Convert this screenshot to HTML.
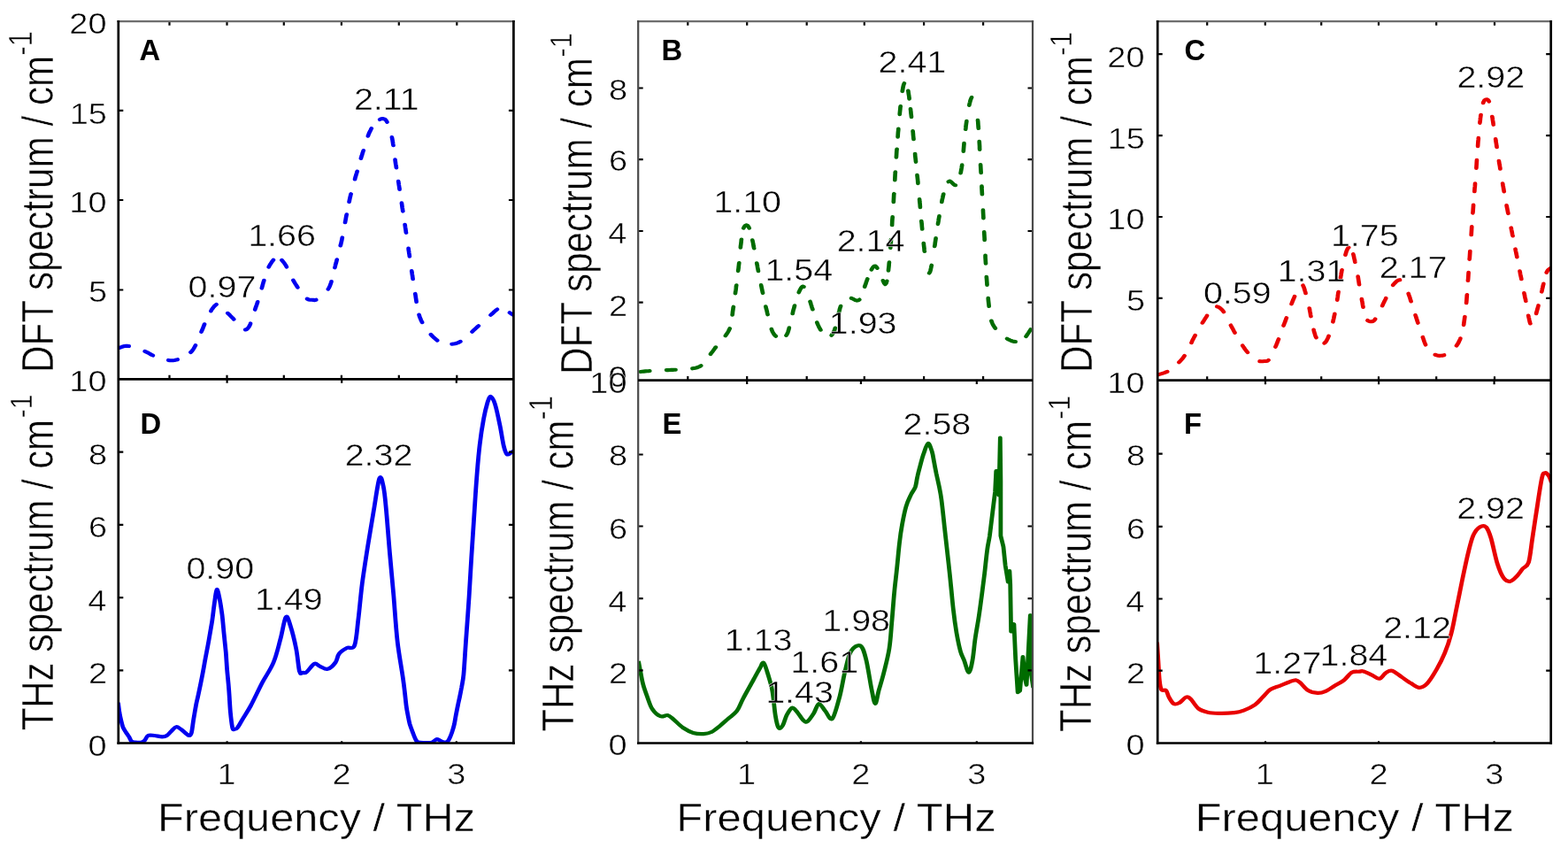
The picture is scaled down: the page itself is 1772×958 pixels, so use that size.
<!DOCTYPE html><html><head><meta charset="utf-8"><title>DFT and THz spectra</title><style>html,body{margin:0;padding:0;background:#fff;overflow:hidden}svg{display:block}text{font-family:"Liberation Sans", Arial, Helvetica, sans-serif}</style></head><body>
<svg width="1772" height="958" viewBox="0 0 1772 958">
<rect width="1772" height="958" fill="#fff"/>
<defs>
<clipPath id="ct0"><rect x="133.8" y="24.2" width="446.59999999999997" height="404.1"/></clipPath>
<clipPath id="cb0"><rect x="133.8" y="428.3" width="446.59999999999997" height="411.09999999999997"/></clipPath>
<clipPath id="ct1"><rect x="721.2" y="24.2" width="445.79999999999995" height="405.40000000000003"/></clipPath>
<clipPath id="cb1"><rect x="721.2" y="429.6" width="445.79999999999995" height="409.79999999999995"/></clipPath>
<clipPath id="ct2"><rect x="1308.2" y="24.2" width="444.5" height="405.5"/></clipPath>
<clipPath id="cb2"><rect x="1308.2" y="429.7" width="444.5" height="409.7"/></clipPath>
</defs>
<g clip-path="url(#ct0)"><path transform="scale(1.14,1)" d="M119.0,392.8 L120.3,392.1 L121.8,391.5 L123.4,391.0 L125.0,390.8 L126.7,390.9 L127.8,391.1 M143.6,396.9 L145.0,397.6 L146.4,398.3 L147.8,399.2 L149.0,400.1 L150.4,400.9 L151.6,401.5 M166.9,406.9 L168.5,407.2 L170.0,407.3 L171.5,407.2 L173.1,407.0 L174.7,406.6 L176.0,406.2 M189.0,398.0 L190.1,396.8 L191.0,395.5 L191.8,394.2 L192.5,392.8 L193.2,391.4 L193.8,390.2 M199.6,374.9 L200.1,373.5 L200.7,372.1 L201.2,370.6 L201.7,369.1 L202.2,367.7 L202.7,366.3 M209.1,351.3 L209.8,349.9 L210.7,348.5 L211.6,347.2 L212.4,346.0 L213.5,344.8 L214.5,343.9 M225.7,353.8 L226.8,354.9 L227.8,356.0 L228.8,357.2 L229.8,358.4 L230.9,359.5 L231.8,360.7 M243.2,372.5 L244.6,372.0 L245.7,370.9 L246.6,369.5 L247.4,368.0 L248.1,366.3 L248.3,365.4 M252.8,349.8 L253.2,348.3 L253.7,346.7 L254.2,345.2 L254.7,343.5 L255.2,341.9 L255.4,341.0 M259.5,325.6 L259.9,324.0 L260.3,322.3 L260.7,320.6 L261.1,318.9 L261.6,317.3 L261.7,316.7 M266.4,301.6 L267.1,300.2 L267.8,298.8 L268.6,297.4 L269.4,296.0 L270.3,294.7 L271.0,293.7 M279.3,293.8 L280.2,295.0 L281.2,296.4 L282.1,297.7 L283.0,299.2 L283.7,300.6 L284.1,301.6 M290.7,316.6 L291.4,318.0 L292.1,319.3 L292.8,320.7 L293.6,322.0 L294.3,323.4 L295.1,324.7 M304.5,337.6 L305.9,338.4 L307.4,338.7 L309.0,338.8 L310.5,338.9 L312.0,339.1 L313.4,338.7 M325.3,326.6 L326.1,325.1 L326.8,323.5 L327.3,322.1 L327.8,320.6 L328.3,319.0 L328.5,318.0 M331.9,302.3 L332.3,300.6 L332.7,298.7 L333.2,296.9 L333.6,295.0 L334.0,293.3 M337.5,277.4 L337.9,275.9 L338.2,274.4 L338.5,272.9 L338.8,271.5 L339.1,269.5 L339.3,268.4 M342.1,251.3 L342.4,249.7 L342.7,247.8 L343.0,245.8 L343.3,243.9 L343.6,242.3 M346.1,228.1 L346.4,226.5 L346.7,224.8 L347.0,223.2 L347.4,221.5 L347.7,219.8 L347.9,219.1 M351.8,202.5 L352.2,200.6 L352.7,198.9 L353.1,197.2 L353.6,195.5 L354.0,193.8 L354.1,193.6 M357.8,178.9 L358.2,177.4 L358.7,175.7 L359.1,174.2 L359.5,172.6 L360.0,171.0 L360.3,170.0 M364.8,153.7 L365.3,152.1 L365.9,150.6 L366.4,149.1 L367.1,147.6 L367.7,146.2 L368.2,145.2 M376.5,135.0 L377.8,134.3 L379.4,134.1 L380.9,134.4 L382.2,135.3 L383.1,136.6 L383.7,137.8 M388.5,155.1 L388.8,156.7 L389.1,158.5 L389.3,160.0 L389.5,161.6 L389.7,163.1 L389.9,164.2 M391.7,180.4 L391.9,182.3 L392.1,183.9 L392.3,185.5 L392.6,187.2 L392.8,188.9 L392.9,189.5 M394.9,204.9 L395.2,206.9 L395.4,208.8 L395.7,210.7 L395.9,212.6 L396.1,214.0 M398.2,229.4 L398.4,231.0 L398.6,232.8 L398.8,234.6 L399.1,236.4 L399.3,238.3 L399.4,238.6 M401.4,253.8 L401.6,255.3 L401.8,257.1 L402.1,259.0 L402.3,260.8 L402.5,262.6 L402.6,262.9 M404.9,280.6 L405.0,282.1 L405.3,284.0 L405.5,285.8 L405.8,287.6 L406.0,289.5 L406.0,289.8 M408.1,306.1 L408.4,308.1 L408.6,310.0 L408.9,311.9 L409.1,313.7 L409.3,315.2 M411.6,331.9 L411.9,333.8 L412.1,335.4 L412.3,337.0 L412.5,338.6 L412.7,340.1 L412.8,341.0 M415.4,355.5 L415.8,357.2 L416.3,358.8 L416.9,360.3 L417.4,361.7 L418.0,363.1 L418.5,364.2 M427.1,377.9 L428.1,379.1 L429.2,380.4 L430.3,381.6 L431.5,382.7 L432.6,383.8 L433.5,384.6 M447.9,388.7 L449.5,388.5 L451.0,388.3 L452.6,387.8 L454.1,387.2 L455.5,386.4 L456.5,385.8 M468.0,374.8 L469.0,373.7 L470.2,372.4 L471.4,371.2 L472.7,369.8 L473.8,368.7 L474.4,368.1 M486.4,355.9 L487.5,354.8 L488.6,353.7 L489.7,352.5 L490.8,351.4 L491.9,350.3 L492.9,349.5 M505.2,353.2 L506.5,354.2 L507.8,355.1 L509.1,356.0" fill="none" stroke="#0000f0" stroke-width="4.1" stroke-linecap="round" stroke-linejoin="round"/></g>
<g clip-path="url(#ct1)"><path transform="scale(1.14,1)" d="M634.9,420.0 L636.6,419.8 L638.1,419.6 L639.8,419.4 L641.5,419.2 L643.2,419.1 L644.1,419.0 M660.6,418.1 L662.2,418.1 L663.9,418.0 L665.4,417.9 L667.0,417.9 L668.6,417.8 L669.8,417.8 M686.4,416.3 L687.9,416.0 L689.3,415.7 L690.9,415.3 L692.3,414.7 L693.7,414.0 L694.9,413.1 M704.4,400.0 L705.3,398.7 L706.2,397.4 L707.1,396.0 L708.0,394.6 L708.8,393.3 L709.5,392.3 M719.2,379.3 L720.0,377.9 L720.8,376.6 L721.6,375.2 L722.3,373.8 L722.9,372.4 L723.4,371.2 M726.0,355.8 L726.2,354.1 L726.3,352.5 L726.5,350.9 L726.7,349.4 L726.9,347.6 L727.1,346.7 M728.9,331.4 L729.1,329.7 L729.4,327.8 L729.6,325.9 L729.7,324.4 L729.9,322.8 L730.0,322.3 M731.7,306.1 L731.9,304.6 L732.1,303.1 L732.2,301.6 L732.4,299.6 L732.6,297.7 L732.7,297.0 M734.1,279.6 L734.2,278.1 L734.4,276.5 L734.6,274.7 L734.8,273.0 L734.9,271.3 L735.0,270.5 M737.1,257.7 L737.7,256.3 L738.6,255.0 L739.9,254.3 L741.3,255.1 L742.1,256.4 L742.7,257.7 M745.9,271.3 L746.2,272.8 L746.5,274.5 L746.8,276.2 L747.0,277.9 L747.3,279.5 L747.5,280.4 M750.2,297.2 L750.5,298.9 L750.8,300.5 L751.0,302.1 L751.3,303.8 L751.6,305.5 L751.7,306.2 M754.5,322.1 L754.8,323.7 L755.1,325.4 L755.4,327.0 L755.7,328.7 L756.0,330.3 L756.2,331.1 M759.1,346.3 L759.4,347.8 L759.7,349.3 L760.1,350.8 L760.4,352.3 L760.7,353.9 L761.0,355.3 M764.8,371.8 L765.3,373.3 L765.8,374.8 L766.5,376.2 L767.2,377.6 L768.1,378.8 L769.1,379.8 M779.4,378.9 L780.2,377.5 L780.8,376.1 L781.3,374.5 L781.7,372.9 L782.1,371.5 L782.3,370.2 M785.7,354.3 L786.0,352.7 L786.3,351.1 L786.7,349.5 L787.1,347.9 L787.5,346.3 L787.7,345.3 M791.9,330.3 L792.5,328.8 L793.1,327.3 L793.8,325.9 L794.6,324.6 L795.7,323.6 L796.9,323.9 M803.1,340.7 L803.6,342.3 L804.0,344.0 L804.5,345.7 L804.9,347.3 L805.4,348.9 L805.6,349.5 M809.9,364.3 L810.4,365.8 L811.0,367.3 L811.6,368.7 L812.2,370.2 L812.9,371.6 L813.5,372.7 M824.3,378.8 L825.2,377.6 L826.0,376.2 L826.7,374.7 L827.2,373.3 L827.6,371.7 L827.9,370.5 M831.3,354.8 L831.6,353.1 L832.0,351.5 L832.3,350.0 L832.6,348.5 L833.1,346.8 L833.4,345.8 M843.9,336.8 L845.3,337.5 L846.6,338.3 L848.0,339.1 L849.5,339.6 L851.1,339.3 L852.0,338.5 M857.2,323.9 L857.6,322.4 L858.2,320.7 L858.6,319.2 L859.1,317.7 L859.5,316.3 L859.9,315.1 M863.9,304.6 L864.6,303.3 L865.4,301.9 L866.4,300.8 L867.9,300.5 L869.0,301.8 L869.6,302.9 M875.3,317.0 L875.9,318.5 L876.5,320.0 L877.5,321.2 L878.5,320.0 L878.9,318.5 L879.2,317.5 M880.7,305.6 L880.8,304.1 L881.0,302.2 L881.2,300.3 L881.3,298.4 L881.5,296.4 M882.7,280.0 L882.8,278.4 L883.0,276.6 L883.1,274.7 L883.2,272.8 L883.3,270.9 L883.3,270.8 M884.3,254.3 L884.4,251.8 L884.5,249.7 L884.6,247.7 L884.8,245.6 L884.8,245.1 M885.8,228.2 L885.9,225.8 L886.0,223.6 L886.1,221.4 L886.2,219.2 L886.3,219.0 M887.1,203.4 L887.2,201.1 L887.3,198.8 L887.4,196.6 L887.6,194.3 L887.6,194.2 M888.5,177.7 L888.6,176.1 L888.7,174.1 L888.8,172.1 L888.9,170.2 L889.1,168.5 M890.0,154.7 L890.1,152.8 L890.2,151.0 L890.3,149.3 L890.5,147.6 L890.6,145.9 L890.6,145.6 M891.9,129.2 L892.0,127.4 L892.2,125.3 L892.4,123.3 L892.5,121.4 L892.7,120.1 M894.5,103.1 L894.8,101.4 L895.0,99.9 L895.3,98.2 L895.6,96.5 L896.1,94.9 L896.4,94.1 M900.3,102.5 L900.5,104.1 L900.7,105.9 L901.0,107.8 L901.2,109.3 L901.3,110.9 L901.4,111.6 M902.6,123.1 L902.8,124.7 L902.9,126.5 L903.1,128.3 L903.3,130.1 L903.5,131.9 L903.5,132.3 M904.9,148.1 L905.1,149.9 L905.2,152.0 L905.4,154.1 L905.6,156.3 L905.7,157.3 M907.1,173.7 L907.2,175.6 L907.4,177.6 L907.6,179.6 L907.8,181.6 L907.9,182.9 M909.2,197.9 L909.4,199.8 L909.6,201.8 L909.8,203.9 L909.9,206.0 L910.0,207.1 M911.5,225.1 L911.6,226.6 L911.7,228.1 L911.9,229.7 L912.0,231.2 L912.1,232.7 L912.2,234.2 M913.4,249.7 L913.6,251.4 L913.8,253.5 L913.9,255.6 L914.1,257.6 L914.2,258.8 M915.6,274.8 L915.8,276.9 L916.0,278.8 L916.2,280.6 L916.3,282.4 L916.5,284.0 M921.2,308.5 L922.0,307.1 L922.4,305.5 L922.7,303.9 L923.0,302.4 L923.3,300.6 L923.5,299.7 M926.5,278.2 L926.8,276.6 L927.0,274.4 L927.3,272.2 L927.5,270.7 L927.7,269.2 L927.7,269.1 M929.8,253.1 L930.0,251.6 L930.3,249.8 L930.5,247.9 L930.8,246.1 L931.1,244.3 L931.1,244.0 M933.6,228.3 L933.8,226.7 L934.1,225.2 L934.5,223.3 L934.8,221.5 L935.2,219.8 L935.3,219.2 M940.2,205.3 L941.5,204.6 L942.8,205.4 L943.9,206.6 L944.9,207.8 L946.0,208.9 L947.2,209.2 M952.3,195.5 L952.6,193.8 L952.9,191.9 L953.2,190.0 L953.4,188.4 L953.7,186.7 L953.7,186.4 M955.1,170.9 L955.2,169.3 L955.3,167.8 L955.4,166.3 L955.5,164.8 L955.7,162.5 L955.7,161.7 M957.2,146.0 L957.4,144.2 L957.5,142.5 L957.7,140.9 L957.9,139.3 L958.1,137.8 L958.2,136.9 M960.8,118.9 L961.1,117.3 L961.5,115.6 L961.8,114.1 L962.2,112.6 L962.7,111.2 L963.2,110.0 M969.3,135.8 L969.5,137.4 L969.6,139.2 L969.7,141.1 L969.8,143.0 L970.0,145.0 M970.8,159.8 L970.9,161.6 L971.0,163.4 L971.1,165.4 L971.1,167.3 L971.2,169.0 M972.0,186.0 L972.1,187.5 L972.2,189.6 L972.3,191.6 L972.4,193.7 L972.5,195.2 M973.2,210.2 L973.2,211.7 L973.3,213.8 L973.4,215.8 L973.5,217.9 L973.6,219.4 M974.5,237.2 L974.6,239.8 L974.7,241.8 L974.8,243.9 L974.9,245.9 L974.9,246.4 M975.6,262.0 L975.7,263.8 L975.8,265.7 L975.9,267.6 L976.0,269.5 L976.0,271.2 M976.8,288.6 L976.8,290.6 L976.9,292.4 L977.0,294.1 L977.1,295.9 L977.2,297.6 L977.2,297.8 M977.9,312.8 L978.1,315.0 L978.2,316.6 L978.3,318.2 L978.4,319.7 L978.5,321.3 L978.5,322.0 M979.6,336.9 L979.7,338.6 L979.9,340.8 L980.1,342.8 L980.3,344.8 L980.4,346.0 M982.8,362.5 L983.3,364.0 L983.8,365.4 L984.4,366.9 L985.1,368.3 L985.9,369.6 L986.7,370.9 M998.3,382.6 L999.6,383.5 L1001.0,384.2 L1002.5,385.0 L1003.9,385.5 L1005.4,385.9 L1006.7,386.0 M1017.1,380.1 L1018.0,378.7 L1018.8,377.3 L1019.6,376.0 L1020.4,374.6 L1021.2,373.1 L1021.7,372.2" fill="none" stroke="#006c00" stroke-width="4.1" stroke-linecap="round" stroke-linejoin="round"/></g>
<g clip-path="url(#ct2)"><path transform="scale(1.14,1)" d="M1148.6,423.1 L1150.1,422.6 L1151.6,422.1 L1153.0,421.6 L1154.4,421.1 L1155.9,420.4 L1157.2,419.8 M1168.7,409.3 L1169.8,408.1 L1170.9,406.8 L1171.9,405.4 L1172.8,404.2 L1173.6,402.9 L1174.2,402.0 M1181.1,387.2 L1181.7,385.6 L1182.3,384.1 L1183.0,382.6 L1183.6,381.2 L1184.3,379.9 L1184.8,378.8 M1192.0,364.7 L1192.8,363.3 L1193.6,361.9 L1194.4,360.4 L1195.2,359.0 L1196.0,357.7 L1196.5,356.7 M1206.4,346.3 L1207.9,346.9 L1209.2,347.8 L1210.4,348.9 L1211.5,350.1 L1212.5,351.4 L1213.1,352.3 M1220.1,367.5 L1220.8,369.0 L1221.6,370.6 L1222.4,372.2 L1223.1,373.8 L1223.9,375.4 L1224.1,375.8 M1231.8,390.4 L1232.6,391.8 L1233.4,393.1 L1234.3,394.6 L1235.2,396.0 L1236.3,397.4 L1236.8,398.1 M1248.7,408.1 L1250.3,408.2 L1251.8,408.2 L1253.4,408.0 L1254.9,408.0 L1256.5,407.7 L1257.5,406.8 M1264.4,391.8 L1265.0,390.3 L1265.6,388.6 L1266.1,387.2 L1266.6,385.7 L1267.1,384.3 L1267.5,383.1 M1272.4,367.8 L1273.0,366.1 L1273.5,364.6 L1274.0,363.2 L1274.5,361.7 L1274.9,360.2 L1275.3,359.1 M1280.3,343.4 L1280.8,341.9 L1281.3,340.5 L1281.9,338.8 L1282.5,337.2 L1283.1,335.6 L1283.4,334.8 M1291.7,322.4 L1292.3,323.9 L1292.8,325.4 L1293.2,326.9 L1293.6,328.5 L1294.0,329.9 L1294.3,331.2 M1298.0,348.2 L1298.3,349.8 L1298.5,351.3 L1298.8,352.8 L1299.0,354.3 L1299.2,355.8 L1299.5,357.3 L1299.5,357.3 M1302.3,372.6 L1302.6,374.2 L1303.0,375.8 L1303.4,377.3 L1303.8,378.8 L1304.3,380.3 L1304.8,381.4 M1312.9,387.7 L1314.0,386.5 L1314.9,385.2 L1315.5,383.7 L1316.2,382.3 L1316.7,380.9 L1317.2,379.6 M1321.4,363.6 L1321.7,361.8 L1322.1,360.1 L1322.4,358.4 L1322.7,356.7 L1323.1,354.9 L1323.1,354.6 M1325.6,338.9 L1325.8,337.2 L1326.1,335.3 L1326.3,333.3 L1326.5,331.8 L1326.7,330.3 L1326.8,329.8 M1328.9,314.1 L1329.1,312.5 L1329.4,310.8 L1329.6,309.1 L1329.9,307.5 L1330.1,305.8 L1330.3,305.0 M1333.7,288.0 L1334.1,286.4 L1334.5,284.8 L1335.0,283.2 L1335.6,281.7 L1336.3,280.3 L1337.0,279.6 M1341.5,287.1 L1341.9,288.8 L1342.2,290.4 L1342.5,292.0 L1342.9,293.8 L1343.2,295.6 L1343.3,296.1 M1346.2,312.4 L1346.4,313.9 L1346.6,315.4 L1346.8,317.0 L1347.0,318.5 L1347.2,320.0 L1347.4,321.5 L1347.4,321.5 M1349.9,337.9 L1350.2,339.9 L1350.5,341.4 L1350.7,343.0 L1350.9,344.6 L1351.2,346.1 L1351.3,347.0 M1355.7,362.0 L1357.0,362.9 L1358.4,363.3 L1359.9,363.2 L1361.4,362.7 L1362.5,361.7 L1363.3,360.4 M1370.3,345.4 L1370.9,343.9 L1371.5,342.5 L1372.2,340.9 L1372.9,339.3 L1373.6,337.7 L1373.9,336.9 M1380.9,322.1 L1381.9,320.8 L1382.9,319.5 L1384.0,318.3 L1385.1,317.3 L1386.4,316.5 L1387.7,316.2 M1396.2,331.7 L1396.7,333.4 L1397.2,334.9 L1397.7,336.5 L1398.1,338.1 L1398.6,339.8 L1398.8,340.5 M1403.1,356.0 L1403.6,357.6 L1404.0,359.2 L1404.5,360.8 L1404.9,362.4 L1405.4,364.0 L1405.6,364.8 M1410.4,380.9 L1410.9,382.5 L1411.4,384.2 L1411.9,385.9 L1412.5,387.6 L1413.1,389.2 L1413.2,389.6 M1422.6,400.8 L1424.1,401.3 L1425.5,401.7 L1427.0,401.9 L1428.6,401.8 L1430.3,401.6 L1431.6,401.2 M1443.8,390.6 L1444.7,389.1 L1445.6,387.6 L1446.3,385.9 L1446.9,384.5 L1447.5,383.1 L1447.7,382.3 M1451.0,367.1 L1451.2,365.3 L1451.4,363.6 L1451.6,361.9 L1451.8,360.2 L1452.0,358.4 L1452.1,357.9 M1453.6,342.3 L1453.8,340.1 L1453.9,338.5 L1454.0,336.9 L1454.1,335.2 L1454.2,333.5 L1454.3,333.1 M1455.2,317.0 L1455.4,315.1 L1455.5,313.3 L1455.6,311.5 L1455.7,309.7 L1455.8,307.9 L1455.8,307.8 M1456.7,292.9 L1456.9,291.0 L1457.0,289.2 L1457.1,287.4 L1457.2,285.6 L1457.3,283.7 L1457.3,283.7 M1458.5,265.3 L1458.6,263.5 L1458.7,261.6 L1458.8,259.8 L1458.9,258.0 L1459.0,256.2 L1459.0,256.1 M1460.0,240.6 L1460.2,238.6 L1460.3,236.9 L1460.4,235.2 L1460.5,233.5 L1460.6,231.8 L1460.6,231.5 M1461.7,216.3 L1461.8,214.3 L1461.9,212.6 L1462.1,210.9 L1462.2,209.3 L1462.3,207.6 L1462.3,207.2 M1463.5,190.0 L1463.6,188.1 L1463.7,186.3 L1463.8,184.5 L1463.9,182.7 L1464.0,180.9 L1464.0,180.8 M1465.0,165.1 L1465.1,163.1 L1465.2,161.3 L1465.3,159.7 L1465.5,158.0 L1465.6,156.4 L1465.6,155.9 M1467.0,138.9 L1467.2,137.0 L1467.4,135.4 L1467.5,133.8 L1467.7,132.3 L1467.9,130.4 L1468.0,129.8 M1470.3,116.2 L1470.8,114.8 L1471.5,113.4 L1472.8,112.5 L1474.3,112.3 L1475.5,113.3 L1476.1,114.6 M1479.2,131.7 L1479.5,133.4 L1479.7,135.3 L1480.0,137.2 L1480.2,138.7 L1480.4,140.3 L1480.5,140.8 M1482.6,157.1 L1482.8,158.9 L1483.1,161.0 L1483.4,163.0 L1483.6,165.1 L1483.8,166.2 M1485.9,181.7 L1486.2,183.9 L1486.4,185.4 L1486.7,187.0 L1486.9,188.6 L1487.1,190.2 L1487.2,190.8 M1489.6,207.3 L1489.9,209.4 L1490.2,211.0 L1490.4,212.6 L1490.6,214.2 L1490.9,215.7 L1491.0,216.4 M1493.5,232.1 L1493.8,234.0 L1494.2,236.0 L1494.5,237.9 L1494.8,239.8 L1495.1,241.1 M1498.0,257.4 L1498.3,259.3 L1498.7,261.3 L1499.0,263.2 L1499.3,265.1 L1499.6,266.4 M1502.2,281.4 L1502.5,283.3 L1502.9,285.2 L1503.2,287.2 L1503.6,289.1 L1503.8,290.4 M1506.6,306.2 L1506.9,308.1 L1507.2,310.1 L1507.6,312.1 L1508.0,314.2 L1508.2,315.3 M1510.9,331.1 L1511.2,332.6 L1511.5,334.4 L1511.8,336.2 L1512.2,337.9 L1512.5,339.6 L1512.6,340.1 M1515.1,356.5 L1515.4,358.3 L1515.8,360.2 L1516.1,361.9 L1516.4,363.4 L1516.8,364.9 L1517.0,365.5 M1522.9,354.2 L1523.3,352.6 L1523.7,350.8 L1524.1,349.3 L1524.4,347.8 L1524.8,346.2 L1525.0,345.2 M1528.3,329.6 L1528.6,328.1 L1528.9,326.4 L1529.3,324.7 L1529.6,322.9 L1530.0,321.2 L1530.1,320.6 M1533.1,307.8 L1533.8,306.3 L1534.7,304.9 L1535.8,303.9 L1537.1,303.0 L1537.5,302.7" fill="none" stroke="#e80000" stroke-width="4.1" stroke-linecap="round" stroke-linejoin="round"/></g>
<g clip-path="url(#cb0)"><path transform="scale(1.14,1)" d="M117.1,793.7 C117.3,795.5 117.9,801.1 118.3,804.4 C118.8,807.6 119.3,810.4 119.9,813.2 C120.5,816.0 121.0,818.8 121.8,821.2 C122.7,823.6 123.9,825.5 124.9,827.4 C126.0,829.3 127.2,831.1 128.1,832.8 C129.0,834.5 129.3,836.5 130.4,837.5 C131.4,838.5 132.6,838.4 134.3,838.6 C136.0,838.8 139.0,839.0 140.5,838.6 C142.1,838.2 142.6,837.6 143.6,836.3 C144.6,835.0 145.2,831.9 146.8,831.0 C148.3,830.1 150.7,830.8 153.0,831.0 C155.3,831.2 158.6,832.3 160.7,832.3 C162.8,832.3 163.9,832.1 165.4,831.0 C167.0,829.9 168.5,827.3 170.1,825.7 C171.6,824.1 173.2,821.5 174.7,821.2 C176.3,820.9 177.8,822.7 179.4,823.9 C181.0,825.1 182.7,827.1 184.1,828.3 C185.5,829.5 186.7,831.1 187.6,831.0 C188.6,830.9 189.2,830.4 189.9,827.4 C190.6,824.4 191.1,818.2 191.8,813.2 C192.6,808.2 193.5,801.6 194.2,797.3 C194.9,793.0 195.1,792.4 196.1,787.5 C197.0,782.6 198.5,774.8 199.7,767.8 C201.0,760.8 202.2,752.7 203.4,745.2 C204.6,737.7 206.0,730.0 207.1,722.7 C208.2,715.4 209.3,708.5 210.3,701.5 C211.2,694.5 211.9,686.3 212.7,680.4 C213.5,674.5 214.1,666.7 214.9,666.0 C215.7,665.3 216.8,671.4 217.6,676.1 C218.5,680.9 219.4,687.9 220.2,694.5 C220.9,701.1 221.4,708.6 222.0,715.6 C222.6,722.6 223.3,730.0 223.9,736.8 C224.4,743.6 224.6,749.5 225.1,756.5 C225.6,763.5 226.4,771.1 226.9,779.1 C227.5,787.1 227.8,797.2 228.4,804.4 C229.0,811.6 229.8,818.9 230.4,822.1 C231.1,825.4 231.5,823.9 232.4,823.9 C233.2,823.9 234.2,823.9 235.4,822.1 C236.7,820.3 237.9,817.4 240.1,813.2 C242.3,809.0 245.4,804.0 248.7,797.0 C252.0,790.0 256.2,779.5 259.9,771.4 C263.7,763.3 268.2,756.5 271.1,748.4 C274.1,740.3 275.8,731.3 277.8,722.8 C279.9,714.3 281.7,699.8 283.4,697.2 C285.1,694.6 286.3,701.4 288.0,707.4 C289.7,713.4 292.1,724.5 293.6,733.0 C295.1,741.5 295.8,754.1 296.9,758.6 C298.0,763.1 299.1,759.8 300.3,759.9 C301.4,760.0 302.1,761.0 303.9,759.3 C305.8,757.6 309.4,750.9 311.6,749.8 C313.8,748.7 315.1,751.8 317.3,752.8 C319.5,753.8 322.3,756.5 324.8,755.8 C327.4,755.1 330.6,751.4 332.5,748.5 C334.4,745.6 334.3,741.2 336.2,738.5 C338.1,735.8 341.3,733.6 343.9,732.0 C346.4,730.4 349.6,734.6 351.5,729.0 C353.4,723.4 354.0,710.2 355.3,698.6 C356.5,687.0 357.5,673.3 359.0,659.6 C360.6,645.9 362.8,630.0 364.7,616.3 C366.6,602.6 368.5,589.9 370.4,577.3 C372.3,564.7 374.5,545.2 376.1,540.5 C377.7,535.8 378.9,543.8 380.0,549.2 C381.1,554.6 381.6,560.4 382.6,573.0 C383.7,585.6 385.1,608.4 386.4,625.0 C387.7,641.6 388.9,656.1 390.2,672.7 C391.4,689.3 392.4,708.8 394.0,724.7 C395.6,740.6 398.3,756.0 399.7,768.0 C401.2,780.0 402.0,790.5 402.7,797.0 C403.5,803.5 403.6,803.7 404.2,807.2 C404.8,810.7 405.4,814.6 406.2,818.0 C407.1,821.4 408.2,824.5 409.2,827.5 C410.2,830.5 411.3,833.9 412.2,835.7 C413.1,837.6 413.2,838.1 414.6,838.6 C416.1,839.1 418.8,839.0 421.1,839.0 C423.3,839.0 426.4,839.2 428.1,838.8 C429.8,838.4 430.3,837.1 431.1,836.5 C432.0,835.9 432.5,835.0 433.3,835.0 C434.1,835.0 434.9,835.9 436.0,836.5 C437.0,837.1 438.5,838.1 439.6,838.4 C440.8,838.6 442.1,838.5 443.0,838.0 C443.9,837.5 444.2,837.5 445.0,835.7 C445.8,834.0 447.1,830.5 448.0,827.5 C448.9,824.5 449.7,821.4 450.4,818.0 C451.0,814.6 451.5,810.7 452.1,807.2 C452.7,803.7 453.3,800.2 453.9,797.0 C454.4,793.8 455.0,791.3 455.6,788.0 C456.2,784.7 456.8,781.3 457.5,777.0 C458.1,772.7 458.8,770.6 459.6,762.0 C460.3,753.4 460.9,740.0 461.8,725.4 C462.7,710.8 464.1,690.1 465.0,674.2 C465.9,658.4 466.5,644.9 467.3,630.3 C468.1,615.7 469.0,601.0 469.8,586.4 C470.7,571.8 471.4,556.4 472.4,542.4 C473.3,528.4 474.4,513.8 475.6,502.2 C476.8,490.6 478.2,480.8 479.5,472.9 C480.8,465.0 482.2,458.8 483.3,454.6 C484.5,450.5 485.3,447.7 486.5,448.0 C487.7,448.3 489.2,451.1 490.7,456.5 C492.2,461.9 494.1,472.3 495.5,480.2 C497.0,488.1 498.2,498.5 499.4,504.0 C500.6,509.5 501.3,512.0 502.5,513.2 C503.8,514.4 505.6,512.0 506.8,511.3 C507.9,510.6 509.2,509.6 509.6,509.3" fill="none" stroke="#0000f0" stroke-width="4.2" stroke-linejoin="round"/></g>
<g clip-path="url(#cb1)"><path transform="scale(1.14,1)" d="M632.9,747.0 C633.3,749.2 634.3,755.6 635.1,760.0 C635.9,764.4 636.5,769.0 637.6,773.6 C638.7,778.2 640.2,782.8 641.7,787.4 C643.2,792.0 644.5,797.6 646.7,801.2 C648.8,804.8 652.2,808.1 654.7,809.2 C657.3,810.4 659.7,807.5 661.8,808.1 C664.0,808.7 665.1,810.3 667.6,812.6 C670.1,814.9 673.7,819.5 676.9,822.0 C680.2,824.5 683.8,826.7 687.2,827.9 C690.6,829.1 694.4,829.3 697.5,829.1 C700.6,828.9 703.0,828.3 705.8,826.7 C708.5,825.1 711.3,822.2 714.0,819.7 C716.8,817.2 719.5,814.2 722.3,811.5 C725.0,808.8 728.1,806.9 730.5,803.2 C732.9,799.5 733.9,795.0 736.7,789.1 C739.4,783.2 744.2,773.7 746.9,768.0 C749.7,762.3 751.5,758.3 753.2,755.1 C754.8,751.9 755.6,748.1 756.8,748.7 C758.0,749.3 758.9,753.4 760.4,758.6 C761.8,763.8 764.2,771.5 765.5,779.7 C766.9,787.9 767.6,800.9 768.6,807.9 C769.6,814.9 770.5,820.0 771.7,822.0 C772.9,824.0 774.4,822.1 775.8,819.7 C777.2,817.4 778.4,811.2 779.9,807.9 C781.5,804.6 783.4,800.3 785.1,799.7 C786.8,799.1 788.4,802.0 790.3,804.4 C792.1,806.8 794.7,812.0 796.4,813.8 C798.1,815.6 798.8,816.4 800.5,815.0 C802.3,813.6 804.9,808.9 806.8,805.6 C808.6,802.3 810.0,795.4 811.8,795.0 C813.7,794.6 815.9,800.4 818.1,803.2 C820.3,806.0 822.7,814.6 825.1,811.8 C827.5,809.0 830.3,795.5 832.5,786.4 C834.6,777.2 836.1,765.3 838.0,756.9 C839.8,748.5 841.1,740.3 843.6,735.7 C846.1,731.1 850.3,728.0 852.8,729.4 C855.3,730.8 856.6,736.1 858.4,744.2 C860.3,752.3 862.4,769.5 863.9,778.0 C865.5,786.5 866.4,794.6 867.6,794.9 C868.8,795.2 869.8,785.7 871.2,779.8 C872.7,773.9 874.6,767.1 876.3,759.3 C878.0,751.5 880.2,742.3 881.5,733.0 C882.8,723.7 883.2,714.4 884.0,703.7 C884.9,693.0 885.7,678.9 886.6,668.7 C887.4,658.5 888.3,651.6 889.1,642.3 C890.0,633.0 890.8,621.4 891.7,613.1 C892.5,604.8 893.2,599.4 894.3,592.6 C895.4,585.8 896.7,577.9 898.2,572.2 C899.6,566.5 901.7,562.2 903.2,558.5 C904.8,554.8 906.3,553.7 907.4,550.2 C908.4,546.7 908.7,541.9 909.6,537.7 C910.4,533.5 911.4,529.4 912.4,525.2 C913.4,521.0 914.3,516.6 915.6,512.6 C916.9,508.6 918.6,501.4 920.0,501.0 C921.4,500.6 922.9,506.5 923.9,510.1 C924.9,513.7 925.3,518.5 926.1,522.7 C926.8,526.9 927.4,530.6 928.2,535.2 C929.1,539.8 930.2,545.4 931.1,550.2 C931.9,555.0 932.3,556.0 933.2,564.0 C934.2,572.0 935.5,587.2 936.6,598.5 C937.7,609.8 938.9,621.8 939.9,632.0 C940.9,642.2 941.7,650.3 942.5,660.0 C943.4,669.7 944.2,680.9 945.2,690.0 C946.1,699.1 947.1,707.2 948.2,714.8 C949.4,722.4 950.8,730.5 952.1,735.7 C953.4,740.9 954.4,742.1 955.8,746.1 C957.2,750.1 959.0,759.7 960.4,759.7 C961.7,759.7 963.0,752.5 964.0,746.1 C965.1,739.7 965.7,729.5 966.8,721.1 C967.8,712.8 969.4,704.0 970.4,696.0 C971.5,688.0 972.2,681.1 973.2,673.1 C974.1,665.1 975.0,656.7 976.0,648.0 C976.9,639.3 977.8,628.0 978.7,620.9 C979.5,613.8 980.2,612.1 981.1,605.3 C981.9,598.5 983.3,584.4 983.8,580.2 L986.5,555.2 L987.5,532.2 L989.2,532.2 L990.2,559.3 L991.5,494.6 L992.0,542.6 L992.0,605.3 L994.7,617.8 L996.6,638.7 L999.3,657.5 L1000.8,645.0 L1001.5,660.0 L1002.3,713.5 L1005.2,705.2 L1006.7,743.6 L1008.9,782.1 L1011.1,780.4 L1014.0,742.0 L1016.2,767.0 L1017.6,773.7 L1019.1,743.6 L1021.3,695.1 L1022.1,760.3 L1024.3,777.0" fill="none" stroke="#006c00" stroke-width="4.2" stroke-linejoin="round"/></g>
<g clip-path="url(#cb2)"><path transform="scale(1.14,1)" d="M1147.0,725.6 C1147.2,729.2 1147.8,739.9 1148.2,747.0 C1148.6,754.1 1148.9,763.0 1149.4,768.3 C1149.9,773.6 1150.2,777.0 1151.3,779.0 C1152.4,781.0 1154.7,778.7 1156.0,780.1 C1157.2,781.5 1157.5,785.1 1158.8,787.6 C1160.0,790.1 1161.8,794.0 1163.5,795.1 C1165.2,796.2 1167.1,795.2 1169.1,794.0 C1171.2,792.8 1173.8,788.3 1175.7,787.6 C1177.6,786.9 1178.3,787.6 1180.4,789.7 C1182.4,791.8 1185.1,797.9 1187.9,800.4 C1190.7,802.9 1193.8,803.8 1197.3,804.7 C1200.7,805.6 1204.1,805.7 1208.5,805.8 C1212.9,805.9 1219.4,805.6 1223.5,805.1 C1227.6,804.6 1229.4,804.1 1232.9,802.6 C1236.3,801.1 1241.1,798.6 1244.2,796.1 C1247.3,793.6 1249.2,790.5 1251.7,787.6 C1254.2,784.8 1256.4,781.1 1259.2,779.0 C1262.0,776.9 1265.5,776.2 1268.6,774.8 C1271.7,773.4 1275.3,771.6 1278.0,770.5 C1280.6,769.4 1282.7,768.1 1284.6,768.3 C1286.4,768.5 1287.2,769.6 1289.2,771.6 C1291.2,773.6 1293.9,778.2 1296.8,780.1 C1299.6,782.0 1303.3,782.7 1306.1,782.9 C1308.9,783.1 1310.8,782.6 1313.6,781.2 C1316.4,779.9 1319.9,776.9 1323.0,774.8 C1326.1,772.6 1329.5,770.8 1332.4,768.3 C1335.2,765.8 1337.4,761.4 1339.9,759.8 C1342.4,758.2 1345.4,758.9 1347.4,758.7 C1349.3,758.5 1349.6,757.8 1351.6,758.4 C1353.6,759.0 1356.8,760.9 1359.5,762.3 C1362.1,763.7 1365.0,767.1 1367.4,766.7 C1369.7,766.4 1371.6,761.7 1373.7,760.2 C1375.8,758.7 1377.4,756.9 1380.0,757.7 C1382.6,758.5 1386.4,762.5 1389.6,764.9 C1392.7,767.3 1396.1,770.1 1399.0,772.1 C1401.9,774.1 1404.3,776.8 1406.9,776.8 C1409.6,776.8 1411.9,775.6 1414.8,772.1 C1417.7,768.6 1421.4,761.6 1424.3,755.9 C1427.2,750.2 1429.8,744.4 1432.2,737.8 C1434.6,731.2 1436.7,724.0 1438.5,716.2 C1440.4,708.4 1441.4,701.2 1443.2,691.0 C1445.1,680.8 1447.5,666.4 1449.6,655.0 C1451.7,643.6 1454.0,630.9 1455.9,622.5 C1457.7,614.1 1458.8,609.0 1460.6,604.5 C1462.5,600.0 1464.8,597.0 1466.9,595.5 C1469.0,594.0 1471.4,593.4 1473.2,595.5 C1475.1,597.6 1476.2,601.2 1478.1,608.1 C1479.9,615.0 1482.3,629.4 1484.4,636.9 C1486.5,644.4 1488.6,649.9 1490.7,653.2 C1492.8,656.5 1494.9,657.1 1497.0,656.8 C1499.1,656.5 1501.2,653.8 1503.3,651.4 C1505.4,649.0 1507.6,645.0 1509.6,642.3 C1511.7,639.6 1513.8,640.8 1515.4,635.1 C1516.9,629.4 1517.7,618.6 1519.1,608.1 C1520.5,597.6 1522.3,583.5 1523.9,572.1 C1525.4,560.7 1527.3,545.9 1528.6,539.6 C1529.9,533.3 1530.6,534.5 1531.8,534.2 C1532.9,533.9 1534.5,536.0 1535.5,537.8 C1536.6,539.6 1537.6,543.8 1538.1,545.0" fill="none" stroke="#e80000" stroke-width="4.2" stroke-linejoin="round"/></g>
<path d="M191.5,24.2 v4.5 M191.5,428.3 v-4.5 M256.5,24.2 v4.5 M256.5,428.3 v-4.5 M320.8,24.2 v4.5 M320.8,428.3 v-4.5 M385.9,24.2 v4.5 M385.9,428.3 v-4.5 M450.8,24.2 v4.5 M450.8,428.3 v-4.5 M516.3,24.2 v4.5 M516.3,428.3 v-4.5 M256.6,428.3 v4.5 M256.6,839.4 v-2.2 M386.2,428.3 v4.5 M386.2,839.4 v-2.2 M515.8,428.3 v4.5 M515.8,839.4 v-2.2 M133.8,124.8 h5.5 M580.4,124.8 h-5.5 M133.8,226.0 h5.5 M580.4,226.0 h-5.5 M133.8,327.5 h5.5 M580.4,327.5 h-5.5 M133.8,510.7 h5.5 M580.4,510.7 h-5.5 M133.8,592.9 h5.5 M580.4,592.9 h-5.5 M133.8,675.1 h5.5 M580.4,675.1 h-5.5 M133.8,757.3 h5.5 M580.4,757.3 h-5.5" stroke="#000" stroke-width="2.2" fill="none"/>
<line x1="132.45000000000002" y1="24.2" x2="581.75" y2="24.2" stroke="#6e6e6e" stroke-width="2.2"/>
<line x1="133.8" y1="23.099999999999998" x2="133.8" y2="840.65" stroke="#000" stroke-width="2.7"/>
<line x1="580.4" y1="23.099999999999998" x2="580.4" y2="840.65" stroke="#000" stroke-width="2.7"/>
<line x1="132.45000000000002" y1="839.4" x2="581.75" y2="839.4" stroke="#000" stroke-width="2.5"/>
<line x1="133.8" y1="428.3" x2="580.4" y2="428.3" stroke="#000" stroke-width="2.8"/>
<path d="M777.3,24.2 v4.5 M777.3,429.6 v-4.5 M844.2,24.2 v4.5 M844.2,429.6 v-4.5 M911.7,24.2 v4.5 M911.7,429.6 v-4.5 M976.8,24.2 v4.5 M976.8,429.6 v-4.5 M1044.1,24.2 v4.5 M1044.1,429.6 v-4.5 M1111.1,24.2 v4.5 M1111.1,429.6 v-4.5 M844.2,429.6 v4.5 M844.2,839.4 v-2.2 M972.9,429.6 v4.5 M972.9,839.4 v-2.2 M1103.8,429.6 v4.5 M1103.8,839.4 v-2.2 M721.2,99.5 h5.5 M1167.0,99.5 h-5.5 M721.2,180.2 h5.5 M1167.0,180.2 h-5.5 M721.2,261.0 h5.5 M1167.0,261.0 h-5.5 M721.2,341.6 h5.5 M1167.0,341.6 h-5.5 M721.2,513.5 h5.5 M1167.0,513.5 h-5.5 M721.2,594.5 h5.5 M1167.0,594.5 h-5.5 M721.2,676.2 h5.5 M1167.0,676.2 h-5.5 M721.2,757.4 h5.5 M1167.0,757.4 h-5.5" stroke="#000" stroke-width="2.2" fill="none"/>
<line x1="720.1" y1="24.2" x2="1168.1" y2="24.2" stroke="#6e6e6e" stroke-width="2.2"/>
<line x1="721.2" y1="23.099999999999998" x2="721.2" y2="840.65" stroke="#4a4a4a" stroke-width="2.2"/>
<line x1="1167.0" y1="23.099999999999998" x2="1167.0" y2="840.65" stroke="#4a4a4a" stroke-width="2.2"/>
<line x1="720.1" y1="839.4" x2="1168.1" y2="839.4" stroke="#000" stroke-width="2.5"/>
<line x1="721.2" y1="429.6" x2="1167.0" y2="429.6" stroke="#000" stroke-width="2.8"/>
<path d="M1364.2,24.2 v4.5 M1364.2,429.7 v-4.5 M1429.8,24.2 v4.5 M1429.8,429.7 v-4.5 M1493.2,24.2 v4.5 M1493.2,429.7 v-4.5 M1558.0,24.2 v4.5 M1558.0,429.7 v-4.5 M1623.2,24.2 v4.5 M1623.2,429.7 v-4.5 M1689.0,24.2 v4.5 M1689.0,429.7 v-4.5 M1430.0,429.7 v4.5 M1430.0,839.4 v-2.2 M1558.1,429.7 v4.5 M1558.1,839.4 v-2.2 M1688.6,429.7 v4.5 M1688.6,839.4 v-2.2 M1308.2,61.2 h5.5 M1752.7,61.2 h-5.5 M1308.2,153.2 h5.5 M1752.7,153.2 h-5.5 M1308.2,245.0 h5.5 M1752.7,245.0 h-5.5 M1308.2,336.8 h5.5 M1752.7,336.8 h-5.5 M1308.2,512.6 h5.5 M1752.7,512.6 h-5.5 M1308.2,594.8 h5.5 M1752.7,594.8 h-5.5 M1308.2,676.5 h5.5 M1752.7,676.5 h-5.5 M1308.2,757.6 h5.5 M1752.7,757.6 h-5.5" stroke="#000" stroke-width="2.2" fill="none"/>
<line x1="1306.8500000000001" y1="24.2" x2="1754.05" y2="24.2" stroke="#6e6e6e" stroke-width="2.2"/>
<line x1="1308.2" y1="23.099999999999998" x2="1308.2" y2="840.65" stroke="#000" stroke-width="2.7"/>
<line x1="1752.7" y1="23.099999999999998" x2="1752.7" y2="840.65" stroke="#000" stroke-width="2.7"/>
<line x1="1306.8500000000001" y1="839.4" x2="1754.05" y2="839.4" stroke="#000" stroke-width="2.5"/>
<line x1="1308.2" y1="429.7" x2="1752.7" y2="429.7" stroke="#000" stroke-width="2.8"/>
<text transform="translate(78.31,38.45) scale(1.1500,1.0000)" font-size="33" font-weight="normal" fill="#000" stroke="#fff" stroke-width="0.5">20</text>
<text transform="translate(78.69,139.95) scale(1.1500,1.0000)" font-size="33" font-weight="normal" fill="#000" stroke="#fff" stroke-width="0.5">15</text>
<text transform="translate(78.31,239.55) scale(1.1500,1.0000)" font-size="33" font-weight="normal" fill="#000" stroke="#fff" stroke-width="0.5">10</text>
<text transform="translate(99.95,340.75) scale(1.1500,1.0000)" font-size="33" font-weight="normal" fill="#000" stroke="#fff" stroke-width="0.5">5</text>
<text transform="translate(78.31,441.85) scale(1.1500,1.0000)" font-size="33" font-weight="normal" fill="#000" stroke="#fff" stroke-width="0.5">10</text>
<text transform="translate(99.95,525.45) scale(1.1500,1.0000)" font-size="33" font-weight="normal" fill="#000" stroke="#fff" stroke-width="0.5">8</text>
<text transform="translate(99.95,607.35) scale(1.1500,1.0000)" font-size="33" font-weight="normal" fill="#000" stroke="#fff" stroke-width="0.5">6</text>
<text transform="translate(99.19,689.55) scale(1.1500,1.0000)" font-size="33" font-weight="normal" fill="#000" stroke="#fff" stroke-width="0.5">4</text>
<text transform="translate(99.95,771.75) scale(1.1500,1.0000)" font-size="33" font-weight="normal" fill="#000" stroke="#fff" stroke-width="0.5">2</text>
<text transform="translate(99.57,853.85) scale(1.1500,1.0000)" font-size="33" font-weight="normal" fill="#000" stroke="#fff" stroke-width="0.5">0</text>
<text transform="translate(687.95,113.25) scale(1.1500,1.0000)" font-size="33" font-weight="normal" fill="#000" stroke="#fff" stroke-width="0.5">8</text>
<text transform="translate(687.95,193.45) scale(1.1500,1.0000)" font-size="33" font-weight="normal" fill="#000" stroke="#fff" stroke-width="0.5">6</text>
<text transform="translate(687.19,275.05) scale(1.1500,1.0000)" font-size="33" font-weight="normal" fill="#000" stroke="#fff" stroke-width="0.5">4</text>
<text transform="translate(687.95,356.55) scale(1.1500,1.0000)" font-size="33" font-weight="normal" fill="#000" stroke="#fff" stroke-width="0.5">2</text>
<text transform="translate(687.57,436.65) scale(1.1500,1.0000)" font-size="33" font-weight="normal" fill="#000" stroke="#fff" stroke-width="0.5">0</text>
<text transform="translate(666.31,443.85) scale(1.1500,1.0000)" font-size="33" font-weight="normal" fill="#000" stroke="#fff" stroke-width="0.5">10</text>
<text transform="translate(687.95,526.15) scale(1.1500,1.0000)" font-size="33" font-weight="normal" fill="#000" stroke="#fff" stroke-width="0.5">8</text>
<text transform="translate(687.95,608.85) scale(1.1500,1.0000)" font-size="33" font-weight="normal" fill="#000" stroke="#fff" stroke-width="0.5">6</text>
<text transform="translate(687.19,690.55) scale(1.1500,1.0000)" font-size="33" font-weight="normal" fill="#000" stroke="#fff" stroke-width="0.5">4</text>
<text transform="translate(687.95,771.75) scale(1.1500,1.0000)" font-size="33" font-weight="normal" fill="#000" stroke="#fff" stroke-width="0.5">2</text>
<text transform="translate(687.57,853.15) scale(1.1500,1.0000)" font-size="33" font-weight="normal" fill="#000" stroke="#fff" stroke-width="0.5">0</text>
<text transform="translate(1251.31,75.55) scale(1.1500,1.0000)" font-size="33" font-weight="normal" fill="#000" stroke="#fff" stroke-width="0.5">20</text>
<text transform="translate(1251.69,167.55) scale(1.1500,1.0000)" font-size="33" font-weight="normal" fill="#000" stroke="#fff" stroke-width="0.5">15</text>
<text transform="translate(1251.31,259.35) scale(1.1500,1.0000)" font-size="33" font-weight="normal" fill="#000" stroke="#fff" stroke-width="0.5">10</text>
<text transform="translate(1272.95,351.15) scale(1.1500,1.0000)" font-size="33" font-weight="normal" fill="#000" stroke="#fff" stroke-width="0.5">5</text>
<text transform="translate(1251.31,443.95) scale(1.1500,1.0000)" font-size="33" font-weight="normal" fill="#000" stroke="#fff" stroke-width="0.5">10</text>
<text transform="translate(1272.95,525.75) scale(1.1500,1.0000)" font-size="33" font-weight="normal" fill="#000" stroke="#fff" stroke-width="0.5">8</text>
<text transform="translate(1272.95,609.15) scale(1.1500,1.0000)" font-size="33" font-weight="normal" fill="#000" stroke="#fff" stroke-width="0.5">6</text>
<text transform="translate(1272.19,690.85) scale(1.1500,1.0000)" font-size="33" font-weight="normal" fill="#000" stroke="#fff" stroke-width="0.5">4</text>
<text transform="translate(1272.95,771.95) scale(1.1500,1.0000)" font-size="33" font-weight="normal" fill="#000" stroke="#fff" stroke-width="0.5">2</text>
<text transform="translate(1272.57,853.15) scale(1.1500,1.0000)" font-size="33" font-weight="normal" fill="#000" stroke="#fff" stroke-width="0.5">0</text>
<text transform="translate(245.40,886.00) scale(1.1500,1.0000)" font-size="33" font-weight="normal" fill="#000" stroke="#fff" stroke-width="0.5">1</text>
<text transform="translate(375.57,886.00) scale(1.1500,1.0000)" font-size="33" font-weight="normal" fill="#000" stroke="#fff" stroke-width="0.5">2</text>
<text transform="translate(505.36,886.00) scale(1.1500,1.0000)" font-size="33" font-weight="normal" fill="#000" stroke="#fff" stroke-width="0.5">3</text>
<text transform="translate(833.00,886.00) scale(1.1500,1.0000)" font-size="33" font-weight="normal" fill="#000" stroke="#fff" stroke-width="0.5">1</text>
<text transform="translate(962.27,886.00) scale(1.1500,1.0000)" font-size="33" font-weight="normal" fill="#000" stroke="#fff" stroke-width="0.5">2</text>
<text transform="translate(1093.36,886.00) scale(1.1500,1.0000)" font-size="33" font-weight="normal" fill="#000" stroke="#fff" stroke-width="0.5">3</text>
<text transform="translate(1418.80,886.00) scale(1.1500,1.0000)" font-size="33" font-weight="normal" fill="#000" stroke="#fff" stroke-width="0.5">1</text>
<text transform="translate(1547.47,886.00) scale(1.1500,1.0000)" font-size="33" font-weight="normal" fill="#000" stroke="#fff" stroke-width="0.5">2</text>
<text transform="translate(1678.16,886.00) scale(1.1500,1.0000)" font-size="33" font-weight="normal" fill="#000" stroke="#fff" stroke-width="0.5">3</text>
<text transform="translate(177.90,938.90) scale(1.1176,1.0000)" font-size="43.6" font-weight="normal" fill="#000" stroke="#fff" stroke-width="0.5">Frequency / THz</text>
<text transform="translate(764.28,938.90) scale(1.1246,1.0000)" font-size="43.6" font-weight="normal" fill="#000" stroke="#fff" stroke-width="0.5">Frequency / THz</text>
<text transform="translate(1350.69,938.90) scale(1.1208,1.0000)" font-size="43.6" font-weight="normal" fill="#000" stroke="#fff" stroke-width="0.5">Frequency / THz</text>
<text transform="translate(60.40,420.98) scale(1.1430,0.9689) rotate(-90)" font-size="43.6" fill="#000" stroke="#fff" stroke-width="0.5">DFT spectrum / cm</text>
<text transform="translate(36.00,62.44) scale(1.1430,0.9689) rotate(-90)" font-size="31.5" fill="#000" stroke="#fff" stroke-width="0.5">-1</text>
<text transform="translate(669.40,422.88) scale(1.1430,0.9678) rotate(-90)" font-size="43.6" fill="#000" stroke="#fff" stroke-width="0.5">DFT spectrum / cm</text>
<text transform="translate(645.70,64.41) scale(1.1430,0.9678) rotate(-90)" font-size="31.5" fill="#000" stroke="#fff" stroke-width="0.5">-1</text>
<text transform="translate(1234.40,420.98) scale(1.1430,0.9678) rotate(-90)" font-size="43.6" fill="#000" stroke="#fff" stroke-width="0.5">DFT spectrum / cm</text>
<text transform="translate(1211.30,63.11) scale(1.1430,0.9678) rotate(-90)" font-size="31.5" fill="#000" stroke="#fff" stroke-width="0.5">-1</text>
<text transform="translate(60.10,825.34) scale(1.1430,0.9610) rotate(-90)" font-size="43.6" fill="#000" stroke="#fff" stroke-width="0.5">THz spectrum / cm</text>
<text transform="translate(36.30,472.33) scale(1.1430,0.9610) rotate(-90)" font-size="31.5" fill="#000" stroke="#fff" stroke-width="0.5">-1</text>
<text transform="translate(647.60,826.64) scale(1.1430,0.9627) rotate(-90)" font-size="43.6" fill="#000" stroke="#fff" stroke-width="0.5">THz spectrum / cm</text>
<text transform="translate(623.80,474.27) scale(1.1430,0.9627) rotate(-90)" font-size="31.5" fill="#000" stroke="#fff" stroke-width="0.5">-1</text>
<text transform="translate(1233.20,826.94) scale(1.1430,0.9621) rotate(-90)" font-size="43.6" fill="#000" stroke="#fff" stroke-width="0.5">THz spectrum / cm</text>
<text transform="translate(1209.20,473.76) scale(1.1430,0.9621) rotate(-90)" font-size="31.5" fill="#000" stroke="#fff" stroke-width="0.5">-1</text>
<text transform="translate(157.62,68.30) scale(1.0000,1.0000)" font-size="32.8" font-weight="bold" fill="#000">A</text>
<text transform="translate(747.50,68.00) scale(1.0000,1.0000)" font-size="32.8" font-weight="bold" fill="#000">B</text>
<text transform="translate(1338.49,68.30) scale(1.0000,1.0000)" font-size="32.8" font-weight="bold" fill="#000">C</text>
<text transform="translate(158.40,489.80) scale(1.0000,1.0000)" font-size="32.8" font-weight="bold" fill="#000">D</text>
<text transform="translate(748.40,489.80) scale(1.0000,1.0000)" font-size="32.8" font-weight="bold" fill="#000">E</text>
<text transform="translate(1337.90,489.80) scale(1.0000,1.0000)" font-size="32.8" font-weight="bold" fill="#000">F</text>
<text transform="translate(212.62,336.40) scale(1.1400,1.0000)" font-size="34.6" font-weight="normal" fill="#000" stroke="#fff" stroke-width="0.5">0.97</text>
<text transform="translate(280.14,277.80) scale(1.1400,1.0000)" font-size="34.6" font-weight="normal" fill="#000" stroke="#fff" stroke-width="0.5">1.66</text>
<text transform="translate(399.93,123.90) scale(1.1400,1.0000)" font-size="34.6" font-weight="normal" fill="#000" stroke="#fff" stroke-width="0.5">2.11</text>
<text transform="translate(210.42,654.10) scale(1.1400,1.0000)" font-size="34.6" font-weight="normal" fill="#000" stroke="#fff" stroke-width="0.5">0.90</text>
<text transform="translate(288.04,689.10) scale(1.1400,1.0000)" font-size="34.6" font-weight="normal" fill="#000" stroke="#fff" stroke-width="0.5">1.49</text>
<text transform="translate(389.63,525.80) scale(1.1400,1.0000)" font-size="34.6" font-weight="normal" fill="#000" stroke="#fff" stroke-width="0.5">2.32</text>
<text transform="translate(806.24,240.10) scale(1.1400,1.0000)" font-size="34.6" font-weight="normal" fill="#000" stroke="#fff" stroke-width="0.5">1.10</text>
<text transform="translate(864.44,317.10) scale(1.1400,1.0000)" font-size="34.6" font-weight="normal" fill="#000" stroke="#fff" stroke-width="0.5">1.54</text>
<text transform="translate(945.63,283.80) scale(1.1400,1.0000)" font-size="34.6" font-weight="normal" fill="#000" stroke="#fff" stroke-width="0.5">2.14</text>
<text transform="translate(936.76,376.80) scale(1.1400,1.0000)" font-size="34.6" font-weight="normal" fill="#000" stroke="#fff" stroke-width="0.5">1.93</text>
<text transform="translate(992.53,81.50) scale(1.1400,1.0000)" font-size="34.6" font-weight="normal" fill="#000" stroke="#fff" stroke-width="0.5">2.41</text>
<text transform="translate(818.64,735.30) scale(1.1400,1.0000)" font-size="34.6" font-weight="normal" fill="#000" stroke="#fff" stroke-width="0.5">1.13</text>
<text transform="translate(865.14,794.40) scale(1.1400,1.0000)" font-size="34.6" font-weight="normal" fill="#000" stroke="#fff" stroke-width="0.5">1.43</text>
<text transform="translate(893.34,760.00) scale(1.1400,1.0000)" font-size="34.6" font-weight="normal" fill="#000" stroke="#fff" stroke-width="0.5">1.61</text>
<text transform="translate(929.24,713.30) scale(1.1400,1.0000)" font-size="34.6" font-weight="normal" fill="#000" stroke="#fff" stroke-width="0.5">1.98</text>
<text transform="translate(1020.53,491.30) scale(1.1400,1.0000)" font-size="34.6" font-weight="normal" fill="#000" stroke="#fff" stroke-width="0.5">2.58</text>
<text transform="translate(1359.92,343.20) scale(1.1400,1.0000)" font-size="34.6" font-weight="normal" fill="#000" stroke="#fff" stroke-width="0.5">0.59</text>
<text transform="translate(1443.64,317.50) scale(1.1400,1.0000)" font-size="34.6" font-weight="normal" fill="#000" stroke="#fff" stroke-width="0.5">1.31</text>
<text transform="translate(1503.94,277.50) scale(1.1400,1.0000)" font-size="34.6" font-weight="normal" fill="#000" stroke="#fff" stroke-width="0.5">1.75</text>
<text transform="translate(1558.73,313.90) scale(1.1400,1.0000)" font-size="34.6" font-weight="normal" fill="#000" stroke="#fff" stroke-width="0.5">2.17</text>
<text transform="translate(1646.38,98.90) scale(1.1400,1.0000)" font-size="34.6" font-weight="normal" fill="#000" stroke="#fff" stroke-width="0.5">2.92</text>
<text transform="translate(1416.34,761.10) scale(1.1400,1.0000)" font-size="34.6" font-weight="normal" fill="#000" stroke="#fff" stroke-width="0.5">1.27</text>
<text transform="translate(1491.54,752.30) scale(1.1400,1.0000)" font-size="34.6" font-weight="normal" fill="#000" stroke="#fff" stroke-width="0.5">1.84</text>
<text transform="translate(1563.13,720.50) scale(1.1400,1.0000)" font-size="34.6" font-weight="normal" fill="#000" stroke="#fff" stroke-width="0.5">2.12</text>
<text transform="translate(1646.23,586.00) scale(1.1400,1.0000)" font-size="34.6" font-weight="normal" fill="#000" stroke="#fff" stroke-width="0.5">2.92</text>
</svg></body></html>
